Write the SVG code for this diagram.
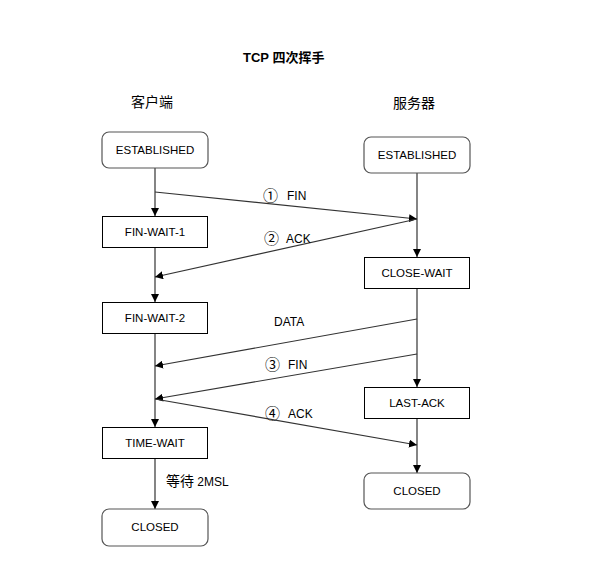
<svg xmlns="http://www.w3.org/2000/svg" width="602" height="583" viewBox="0 0 602 583">
  <style>
    text { font-family: "Liberation Sans", "Noto Sans CJK SC", sans-serif; fill: #000; }
    .title { font-size: 13px; font-weight: bold; }
    .side { font-size: 14px; }
    .label { font-size: 12px; }
    .num { font-size: 15px; }
    .state { font-size: 11.5px; text-anchor: middle; dominant-baseline: central; }
    .round { fill: #fff; stroke: #555; stroke-width: 1.2; }
    .square { fill: #fff; stroke: #000; stroke-width: 1; }
    .conn { fill: none; stroke: #333; stroke-width: 1.2; marker-end: url(#arrow); }
  </style>
  <defs>
    <marker id="arrow" viewBox="0 0 10 10" refX="10" refY="5" markerWidth="8" markerHeight="8" markerUnits="userSpaceOnUse" orient="auto">
      <path d="M0,0 L10,5 L0,10 Z" fill="#000"/>
    </marker>
  </defs>
  <rect width="602" height="583" fill="#fff"/>

  <text class="title" x="243" y="62">TCP 四次挥手</text>
  <text class="side" x="131" y="107">客户端</text>
  <text class="side" x="393" y="108">服务器</text>

  <!-- connectors -->
  <g id="connectors">
    <line class="conn" x1="155" y1="168" x2="155" y2="216"/>
    <line class="conn" x1="155" y1="247" x2="155" y2="302"/>
    <line class="conn" x1="155" y1="333" x2="155" y2="427"/>
    <line class="conn" x1="155" y1="458" x2="155" y2="509"/>
    <line class="conn" x1="417" y1="173" x2="417" y2="257"/>
    <line class="conn" x1="417" y1="288" x2="417" y2="387"/>
    <line class="conn" x1="417" y1="418" x2="417" y2="473"/>
    <line class="conn" x1="155" y1="192" x2="417" y2="219"/>
    <line class="conn" x1="417" y1="219" x2="155" y2="277"/>
    <line class="conn" x1="417" y1="319" x2="155" y2="366"/>
    <line class="conn" x1="417" y1="354" x2="155" y2="399"/>
    <line class="conn" x1="155" y1="399" x2="417" y2="445"/>
  </g>

  <g id="labels">
    <text class="num" x="263" y="201">①</text><text class="label" x="287" y="200">FIN</text>
    <text class="num" x="264" y="244">②</text><text class="label" x="286" y="243">ACK</text>
    <text class="label" x="274" y="326">DATA</text>
    <text class="num" x="265" y="370">③</text><text class="label" x="288" y="369">FIN</text>
    <text class="num" x="265" y="419">④</text><text class="label" x="288" y="418">ACK</text>
    <text class="label" x="166" y="486"><tspan style="font-size:14px">等待</tspan> 2MSL</text>
  </g>

  <!-- client states -->
  <g id="c-established">
    <rect class="round" x="102" y="132" width="106" height="36" rx="7"/>
    <text class="state" x="155" y="150">ESTABLISHED</text>
  </g>
  <g id="c-fin-wait-1">
    <rect class="square" x="102.5" y="216.5" width="105" height="31"/>
    <text class="state" x="155" y="232">FIN-WAIT-1</text>
  </g>
  <g id="c-fin-wait-2">
    <rect class="square" x="102.5" y="302.5" width="105" height="31"/>
    <text class="state" x="155" y="318">FIN-WAIT-2</text>
  </g>
  <g id="c-time-wait">
    <rect class="square" x="102.5" y="427.5" width="105" height="31"/>
    <text class="state" x="155" y="443">TIME-WAIT</text>
  </g>
  <g id="c-closed">
    <rect class="round" x="102" y="509" width="106" height="37" rx="7"/>
    <text class="state" x="155" y="527">CLOSED</text>
  </g>

  <!-- server states -->
  <g id="s-established">
    <rect class="round" x="364" y="137" width="106" height="36" rx="7"/>
    <text class="state" x="417" y="155">ESTABLISHED</text>
  </g>
  <g id="s-close-wait">
    <rect class="square" x="364.5" y="257.5" width="105" height="31"/>
    <text class="state" x="417" y="273">CLOSE-WAIT</text>
  </g>
  <g id="s-last-ack">
    <rect class="square" x="364.5" y="387.5" width="105" height="31"/>
    <text class="state" x="417" y="403">LAST-ACK</text>
  </g>
  <g id="s-closed">
    <rect class="round" x="364" y="473" width="106" height="36" rx="7"/>
    <text class="state" x="417" y="491">CLOSED</text>
  </g>
</svg>
